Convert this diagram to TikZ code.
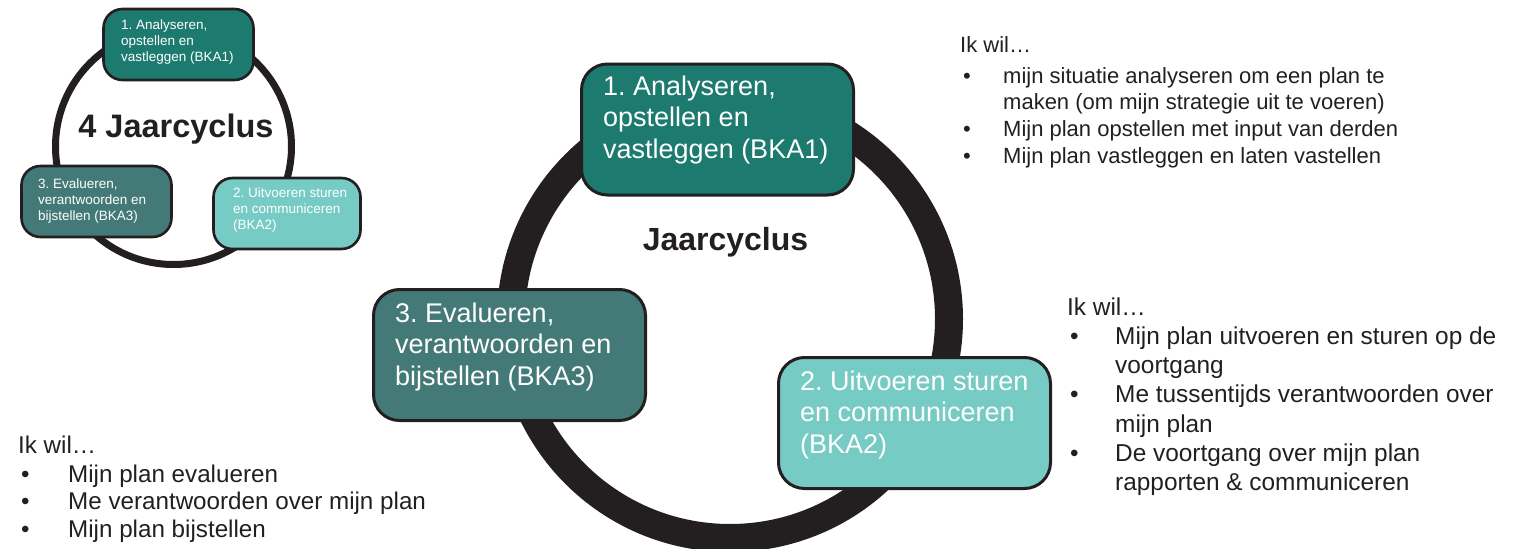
\documentclass[tikz,border=0pt]{standalone}
\usepackage{fontspec}
\setmainfont{Liberation Sans}
\definecolor{ringc}{HTML}{231F20}
\definecolor{tealA}{HTML}{1C7A6E}
\definecolor{tealB}{HTML}{76CBC4}
\definecolor{tealC}{HTML}{437976}
\newcommand{\itm}[1]{\makebox[#1][l]{\hspace{3pt}•}}
\frenchspacing
\begin{document}
\begin{tikzpicture}[x=1pt,y=-1pt,
  bigring/.style={draw=ringc, line width=28pt},
  smallring/.style={draw=ringc, line width=7pt},
  bigbox/.style={draw=ringc, line width=3pt, rounded corners=26pt, minimum width=272pt, minimum height=131pt, inner sep=0pt},
  smallbox/.style={draw=ringc, line width=2.6pt, rounded corners=19pt, minimum width=150pt, minimum height=71pt, inner sep=0pt},
  bigtxt/.style={anchor=north west, inner sep=0pt, align=left, text=white, font=\fontsize{27}{31.5}\selectfont},
  smalltxt/.style={anchor=north west, inner sep=0pt, align=left, text=white, font=\fontsize{13.5}{16.3}\selectfont},
  title/.style={anchor=base, inner sep=0pt, text=ringc, font=\bfseries\fontsize{32}{36}\selectfont},
  listA/.style={anchor=north west, inner sep=0pt, align=left, text=ringc, font=\fontsize{22}{26.7}\selectfont},
  listB/.style={anchor=north west, inner sep=0pt, align=left, text=ringc, font=\fontsize{24.4}{29.2}\selectfont},
  listC/.style={anchor=north west, inner sep=0pt, align=left, text=ringc, font=\fontsize{24.2}{27.3}\selectfont}
]
\useasboundingbox (0,0) rectangle (1519,549);

% small cycle
\draw[smallring] (173.5,146.5) circle (118);
\node[smallbox, fill=tealA] (s1) at (178.5,44.5) {};
\node[smallbox, fill=tealC] (s3) at (96.5,201.5) {};
\node[smallbox, fill=tealB, minimum width=147pt] (s2) at (287,213.5) {};
\node[smalltxt] (s1t) at (121,19.3) {1. Analyseren,\\opstellen en\\vastleggen (BKA1)};
\node[smalltxt] (s3t) at (38,178.3) {3. Evalueren,\\verantwoorden en\\bijstellen (BKA3)};
\node[smalltxt] (s2t) at (233,187.3) {2. Uitvoeren sturen\\en communiceren\\(BKA2)};
\node[title, font=\bfseries\fontsize{32.5}{36}\selectfont] (st) at (176,137) {4 Jaarcyclus};

% big cycle
\draw[bigring] (730,319) circle (219);
\node[bigbox, fill=tealA] (b1) at (717.5,129.5) {};
\node[bigbox, fill=tealC] (b3) at (509.5,355) {};
\node[bigbox, fill=tealB] (b2) at (914.5,423) {};
\node[bigtxt] (b1t) at (603,75.5) {1. Analyseren,\\opstellen en\\vastleggen (BKA1)};
\node[bigtxt] (b3t) at (395,302.5) {3. Evalueren,\\verantwoorden en\\bijstellen (BKA3)};
\node[bigtxt] (b2t) at (800,370.5) {2. Uitvoeren sturen\\en communiceren\\(BKA2)};
\node[title] (bt) at (725.5,250) {Jaarcyclus};

% lists
\node[listA] (la) at (960,35.9) {Ik wil…\\[4.3pt]
\itm{43pt}mijn situatie analyseren om een plan te\\
\hspace*{43pt}maken (om mijn strategie uit te voeren)\\
\itm{43pt}Mijn plan opstellen met input van derden\\
\itm{43pt}Mijn plan vastleggen en laten vastellen};

\node[listB] (lb) at (1067,297.5) {Ik wil…\\
\itm{48pt}Mijn plan uitvoeren en sturen op de\\
\hspace*{48pt}voortgang\\
\itm{48pt}Me tussentijds verantwoorden over\\
\hspace*{48pt}mijn plan\\
\itm{48pt}De voortgang over mijn plan\\
\hspace*{48pt}rapporten \& communiceren};

\node[listC] (lc) at (18,435.5) {Ik wil…\\[2pt]
\itm{50pt}Mijn plan evalueren\\
\itm{50pt}Me verantwoorden over mijn plan\\
\itm{50pt}Mijn plan bijstellen};
\end{tikzpicture}
\end{document}
